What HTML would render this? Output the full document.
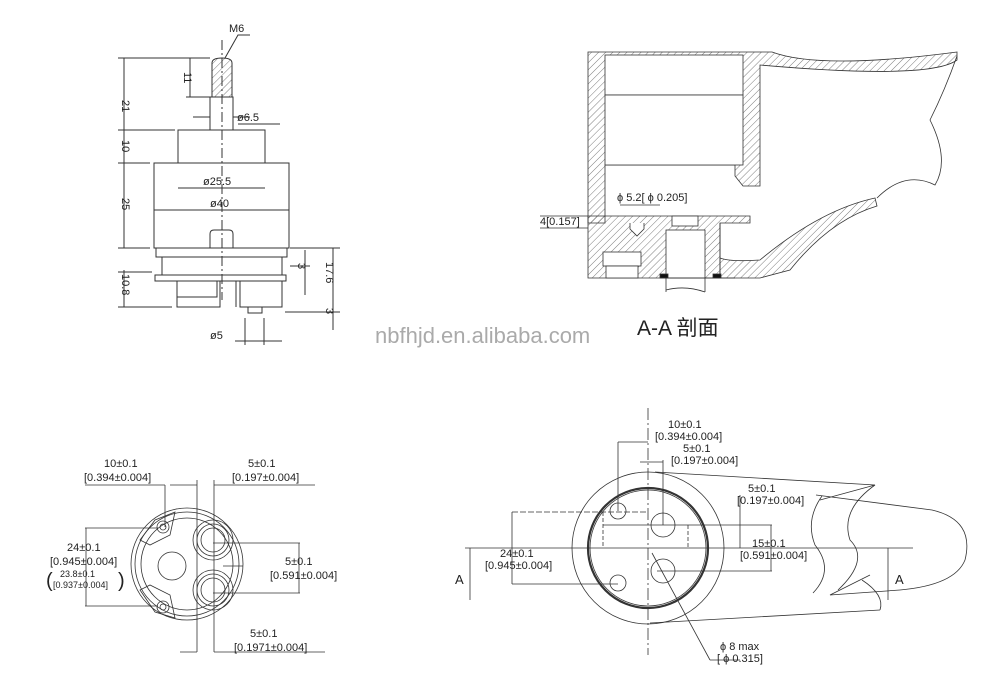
<!DOCTYPE html>
<html><head><meta charset="utf-8"><style>
html,body{margin:0;padding:0;background:#fff;}
svg{display:block}
text{font-family:"Liberation Sans","Noto Sans CJK SC",sans-serif;fill:#222}
</style></head><body>
<svg width="999" height="673" viewBox="0 0 999 673" xmlns="http://www.w3.org/2000/svg">
<defs>
<pattern id="h" width="5" height="5" patternUnits="userSpaceOnUse" patternTransform="rotate(45)">
<line x1="0" y1="0" x2="0" y2="5" stroke="#444" stroke-width="0.7"/></pattern>
<marker id="ar" markerWidth="8" markerHeight="6" refX="8" refY="3" orient="auto"><path d="M0,0 L8,3 L0,6z" fill="#222"/></marker>
</defs>
<rect width="999" height="673" fill="#fff"/>
<g stroke="#333" stroke-width="1" fill="none">
<!-- TOP LEFT cartridge -->
<path d="M212,97 L212,63 Q212,58 222,58 Q232,58 232,63 L232,97 Z" fill="url(#h)"/>
<rect x="210" y="97" width="23" height="33"/>
<rect x="178" y="130" width="87" height="33"/>
<path d="M154,163 H289 V248 H233 V234 Q233,230 229,230 H214 Q210,230 210,234 V248 H154 Z"/>
<rect x="156" y="248" width="131" height="9"/>
<rect x="162" y="257" width="120" height="18"/>
<rect x="155" y="275" width="131" height="6"/>
<rect x="177" y="281" width="43" height="26"/>
<path d="M177,281 V297 H217 V281"/>
<rect x="240" y="281" width="42" height="26"/>
<path d="M236,281 V307"/>
<rect x="248" y="307" width="14" height="6"/>
<line x1="222" y1="40" x2="222" y2="300" stroke-dasharray="10,3,2,3"/>
<!-- dims -->
<line x1="124" y1="58" x2="124" y2="248"/>
<line x1="118" y1="58" x2="210" y2="58"/><line x1="118" y1="130" x2="175" y2="130"/>
<line x1="118" y1="163" x2="150" y2="163"/><line x1="118" y1="248" x2="150" y2="248"/>
<line x1="190" y1="58" x2="190" y2="97"/><line x1="186" y1="97" x2="210" y2="97"/>
<line x1="124" y1="270" x2="124" y2="307"/><line x1="118" y1="272" x2="152" y2="272"/><line x1="118" y1="307" x2="172" y2="307"/>
<line x1="193" y1="117" x2="210" y2="117"/><line x1="233" y1="117" x2="250" y2="117"/><line x1="238" y1="124" x2="280" y2="124"/>
<line x1="178" y1="188" x2="265" y2="188"/><line x1="154" y1="210" x2="289" y2="210"/>
<line x1="290" y1="248" x2="340" y2="248"/><line x1="305" y1="250" x2="305" y2="295"/><line x1="290" y1="266" x2="310" y2="266"/>
<line x1="333" y1="248" x2="333" y2="330"/><line x1="285" y1="312" x2="340" y2="312"/>
<line x1="245" y1="318" x2="245" y2="345"/><line x1="264" y1="318" x2="264" y2="345"/><line x1="235" y1="341" x2="282" y2="341"/>
<polyline points="225,58 238,35 250,35"/>
</g>
<g font-size="11">
<text x="229" y="32">M6</text>
<text x="237" y="121">ø6.5</text>
<text x="203" y="185">ø25.5</text>
<text x="210" y="207">ø40</text>
<text x="210" y="339">ø5</text>
<text transform="translate(122,100) rotate(90)">21</text>
<text transform="translate(122,140) rotate(90)">10</text>
<text transform="translate(122,198) rotate(90)">25</text>
<text transform="translate(184,72) rotate(90)">11</text>
<text transform="translate(122,274) rotate(90)">10.8</text>
<text transform="translate(298,263) rotate(90)">3</text>
<text transform="translate(326,262) rotate(90)">17.6</text>
<text transform="translate(326,308) rotate(90)">3</text>
</g>

<!-- TOP RIGHT section -->
<g stroke="#333" stroke-width="0.8">
<path d="M588,52 H772 Q820,70 957,52 L957,60 Q930,80 760,65 V186 H743 L735,176 V165 H605 V223 H588 Z" fill="url(#h)"/>
<path d="M588,216 H750 V223 H720 V278 H588 Z" fill="url(#h)"/>
<path d="M720,223 V258 Q730,262 760,260 Q820,210 875,198 L877,206 Q830,220 790,270 L760,278 H720Z" fill="url(#h)"/>
<path d="M957,56 Q945,90 930,120 Q950,160 935,185 Q905,170 877,198" fill="none"/>
<rect x="605" y="55" width="138" height="40" fill="#fff"/>
<rect x="605" y="95" width="138" height="70" fill="#fff"/>
<rect x="672" y="216" width="26" height="10" fill="#fff"/>
<rect x="666" y="230" width="39" height="48" fill="#fff"/>
<rect x="603" y="252" width="38" height="14" fill="#fff"/>
<rect x="606" y="266" width="32" height="12" fill="#fff"/>
<path d="M630,223 V229 L637,236 L644,229 V223" fill="#fff"/>
<rect x="660" y="274" width="8" height="4" fill="#111"/><rect x="713" y="274" width="8" height="4" fill="#111"/>
<path d="M660,278 H735 M666,278 V292 M705,278 V292 M666,290 Q685,285 705,292" fill="none"/>
<line x1="540" y1="216" x2="588" y2="216"/><line x1="540" y1="228" x2="588" y2="228"/>
<line x1="620" y1="205" x2="660" y2="205"/>
</g>
<g font-size="11">
<text x="617" y="201">ϕ 5.2[ ϕ 0.205]</text>
<text x="540" y="225">4[0.157]</text>
</g>
<text x="375" y="343" font-size="22" style="fill:#aaa">nbfhjd.en.alibaba.com</text>
<text x="637" y="335" font-size="21">A-A 剖面</text>

<!-- BOTTOM LEFT -->
<g stroke="#333" stroke-width="0.8" fill="none">
<circle cx="187" cy="564" r="56"/><circle cx="187" cy="564" r="52"/><circle cx="187" cy="564" r="46"/>
<circle cx="172" cy="566" r="14"/>
<circle cx="213" cy="540" r="20"/><circle cx="213" cy="540" r="16"/><circle cx="213" cy="540" r="12"/>
<circle cx="213" cy="590" r="20"/><circle cx="213" cy="590" r="16"/><circle cx="213" cy="590" r="12"/>
<circle cx="163" cy="527" r="6"/><circle cx="163" cy="527" r="3"/>
<circle cx="163" cy="607" r="6"/><circle cx="163" cy="607" r="3"/>
<path d="M140,540 L155,520 L175,512 L170,535 L150,545 Z"/>
<path d="M140,590 L155,612 L175,618 L170,595 L150,585 Z"/>
<line x1="197" y1="480" x2="197" y2="652"/><line x1="214" y1="480" x2="214" y2="652"/>
<line x1="165" y1="485" x2="165" y2="527"/>
<line x1="85" y1="485" x2="165" y2="485"/><line x1="170" y1="485" x2="197" y2="485"/><line x1="214" y1="485" x2="315" y2="485"/>
<line x1="180" y1="652" x2="197" y2="652"/><line x1="214" y1="652" x2="325" y2="652"/>
<line x1="85" y1="528" x2="158" y2="528"/><line x1="85" y1="606" x2="158" y2="606"/>
<line x1="86" y1="528" x2="86" y2="606"/>
<line x1="213" y1="543" x2="300" y2="543"/><line x1="213" y1="593" x2="300" y2="593"/>
<line x1="299" y1="543" x2="299" y2="593"/>
<line x1="223" y1="566" x2="243" y2="566"/>
</g>
<g font-size="11">
<text x="104" y="467">10±0.1</text><text x="84" y="481">[0.394±0.004]</text>
<text x="248" y="467">5±0.1</text><text x="232" y="481">[0.197±0.004]</text>
<text x="67" y="551">24±0.1</text><text x="50" y="565">[0.945±0.004]</text>
<text x="60" y="577" font-size="9">23.8±0.1</text><text x="53" y="588" font-size="9">[0.937±0.004]</text>
<text x="46" y="587" font-size="20">(</text><text x="118" y="587" font-size="20">)</text>
<text x="285" y="565">5±0.1</text><text x="270" y="579">[0.591±0.004]</text>
<text x="250" y="637">5±0.1</text><text x="234" y="651">[0.1971±0.004]</text>
</g>

<!-- BOTTOM RIGHT -->
<g stroke="#333" stroke-width="0.8" fill="none">
<circle cx="648" cy="548" r="76"/>
<circle cx="648" cy="548" r="60" stroke-width="2.2"/>
<circle cx="648" cy="548" r="58"/>
<circle cx="618" cy="511" r="8"/><circle cx="618" cy="583" r="8"/>
<circle cx="663" cy="525" r="12"/><circle cx="663" cy="571" r="12"/>
<path d="M655,472 L875,485 L820,500 M816,495 L932,510 Q975,520 965,560 Q955,585 900,590 L830,595 L870,575 M650,623 L880,610"/>
<path d="M875,485 Q840,510 850,540 Q870,560 838,590 M822,496 Q805,520 815,545 Q835,570 813,593" />
<path d="M862,580 Q885,595 880,610"/>
<line x1="465" y1="548" x2="913" y2="548"/>
<line x1="648" y1="408" x2="648" y2="655" stroke-dasharray="12,3,2,3"/>
<line x1="618" y1="442" x2="618" y2="511"/><line x1="618" y1="442" x2="648" y2="442"/>
<line x1="663" y1="460" x2="663" y2="525"/><line x1="640" y1="462" x2="663" y2="462"/>
<line x1="512" y1="512" x2="648" y2="512" stroke-dasharray="6,2"/>
<line x1="512" y1="584" x2="618" y2="584"/><line x1="512" y1="512" x2="512" y2="584"/>
<line x1="603" y1="525" x2="772" y2="525"/><line x1="657" y1="571" x2="772" y2="571"/>
<line x1="771" y1="525" x2="771" y2="571"/>
<line x1="740" y1="495" x2="740" y2="548"/>
<line x1="688" y1="525" x2="688" y2="548" stroke-dasharray="4,2"/>
<line x1="603" y1="512" x2="603" y2="548" stroke-dasharray="4,2"/>
<line x1="470" y1="548" x2="470" y2="600"/><line x1="888" y1="548" x2="888" y2="600"/>
<line x1="652" y1="553" x2="710" y2="660"/><line x1="710" y1="660" x2="740" y2="660"/>
</g>
<g font-size="11">
<text x="668" y="428">10±0.1</text><text x="655" y="440">[0.394±0.004]</text>
<text x="683" y="452">5±0.1</text><text x="671" y="464">[0.197±0.004]</text>
<text x="748" y="492">5±0.1</text><text x="737" y="504">[0.197±0.004]</text>
<text x="752" y="547">15±0.1</text><text x="740" y="559">[0.591±0.004]</text>
<text x="500" y="557">24±0.1</text><text x="485" y="569">[0.945±0.004]</text>
<text x="720" y="650">ϕ 8 max</text><text x="717" y="662">[ ϕ 0.315]</text>
<text x="455" y="584" font-size="13">A</text><text x="895" y="584" font-size="13">A</text>
</g>
</svg>
</body></html>
